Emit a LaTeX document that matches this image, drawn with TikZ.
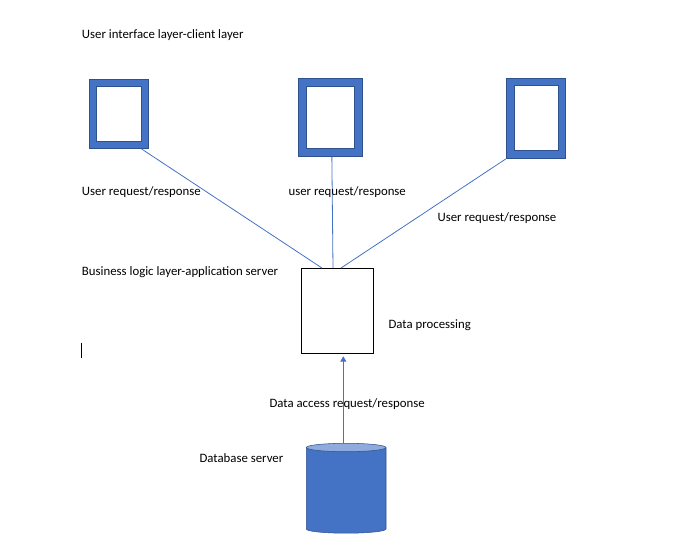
\documentclass[tikz,border=0pt]{standalone}
\usepackage{fontspec}
\setmainfont{Carlito}
\usetikzlibrary{arrows.meta,calc}
\definecolor{ofblue}{HTML}{4472C4}
\definecolor{ofdark}{HTML}{2F528F}
\definecolor{oflight}{HTML}{8FAADC}
\tikzset{
  lbl/.style={anchor=west,inner sep=0pt,font=\fontsize{9.6pt}{11.5pt}\selectfont,text height=0.7em,text depth=0.2em},
  conn/.style={draw=ofblue,line width=0.6pt},
  frameout/.style={draw=ofdark,line width=0.4pt,fill=ofblue},
  framein/.style={draw=ofdark,line width=0.4pt,fill=white},
  procbox/.style={draw=black,line width=0.75pt,fill=white},
}
\begin{document}
\begin{tikzpicture}[x=0.75pt,y=-0.75pt]
\useasboundingbox (0,0) rectangle (692,545);
% monitors
\draw[frameout] (89.3,79) rectangle (148.7,148.7);
\draw[framein] (96.7,86.7) rectangle (141.3,141);
\node[inner sep=0pt,minimum width=59.4*0.75pt,minimum height=69.7*0.75pt] (m1) at (119,113.85) {};
\draw[frameout] (298,78.3) rectangle (362.7,156.7);
\draw[framein] (306.7,86.7) rectangle (354.7,148.3);
\node[inner sep=0pt,minimum width=64.7*0.75pt,minimum height=78.4*0.75pt] (m2) at (330.35,117.5) {};
\draw[frameout] (506,78.3) rectangle (565.7,158.7);
\draw[framein] (514,85.7) rectangle (558,150.7);
\node[inner sep=0pt,minimum width=59.7*0.75pt,minimum height=80.4*0.75pt] (m3) at (535.85,118.5) {};
% application server box
\draw[procbox] (301.3,268.3) rectangle (373.7,353.3);
\node[inner sep=0pt,minimum width=72.4*0.75pt,minimum height=85*0.75pt] (app) at (337.5,310.8) {};
% database cylinder
\fill[ofblue] (306.3,447.5) -- (306.3,529) arc[start angle=180,end angle=0,x radius=39.85,y radius=4.2] -- (386,447.5) -- cycle;
\draw[ofdark,line width=0.4pt] (306.3,447.5) -- (306.3,529) arc[start angle=180,end angle=0,x radius=39.85,y radius=4.2] -- (386,447.5);
\draw[ofdark,line width=0.4pt,fill=oflight] (346.15,447.5) ellipse[x radius=39.85,y radius=4.2];
\coordinate (db) at (343.3,443.3);
% connectors
\draw[conn] ([xshift=-7.4*0.75pt]m1.south east) -- ([xshift=-15.5*0.75pt]app.north);
\draw[conn] ([xshift=1.5*0.75pt]m2.south) -- ([xshift=-4.5*0.75pt]app.north);
\draw[conn] (m3.south west) -- ([xshift=3.5*0.75pt]app.north);
\draw[conn,-{Triangle[length=4pt,width=4.5pt]}] (db) -- ([xshift=5.8*0.75pt,yshift=-2.7*0.75pt]app.south);
% cursor mark
\draw[black,line width=0.8pt] (81.7,342.7) -- (81.7,357.7);
% labels
\node[lbl] (t0) at (81.7,35) {User interface layer-client layer};
\node[lbl] (t1) at (81.7,192.3) {User request/response};
\node[lbl] (t2) at (288.3,192.3) {user request/response};
\node[lbl] (t3) at (437.3,217.7) {User request/response};
\node[lbl] (t4) at (81.7,272.3) {Business logic layer-application server};
\node[lbl] (t5) at (388.3,325) {Data processing};
\node[lbl] (t6) at (269.3,404) {Data access request/response};
\node[lbl] (t7) at (199.3,458.7) {Database server};
\end{tikzpicture}
\end{document}
